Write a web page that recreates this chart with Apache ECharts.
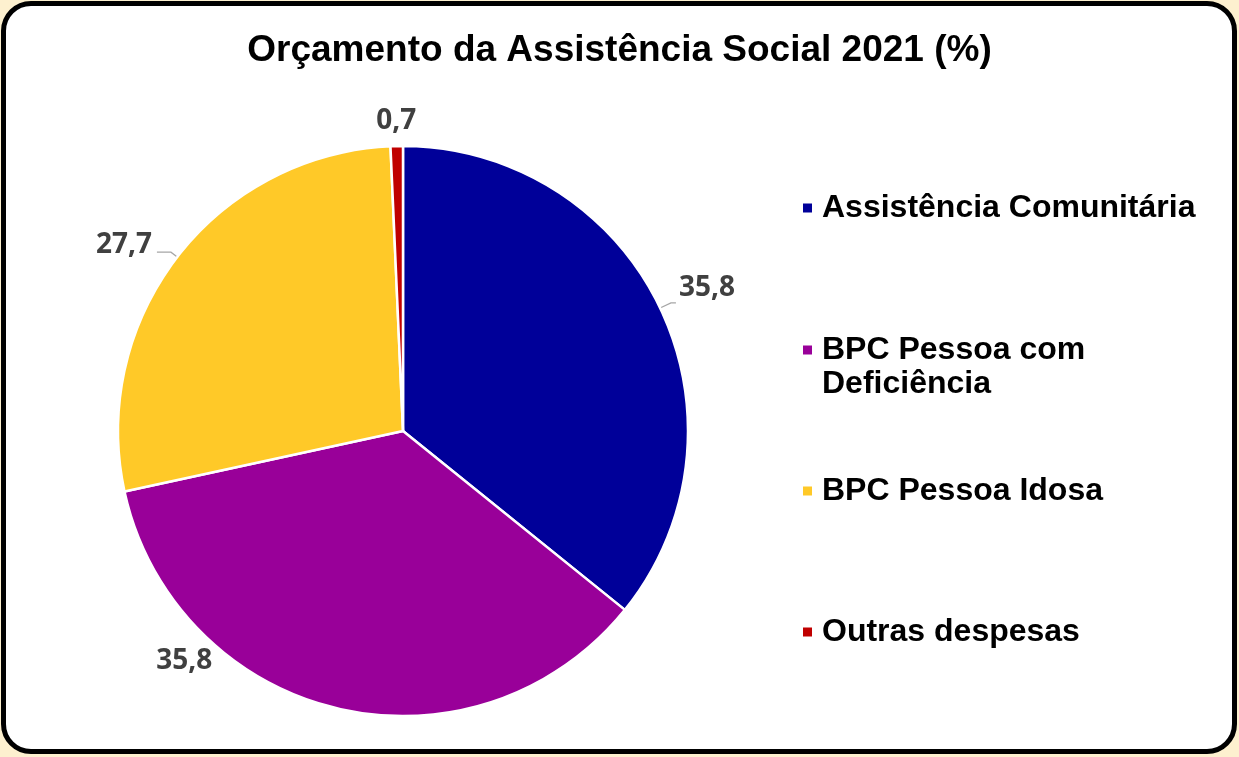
<!DOCTYPE html>
<html>
<head>
<meta charset="utf-8">
<script src="https://cdn.jsdelivr.net/npm/echarts@6/dist/echarts.min.js"></script>
<style>
  html, body { margin: 0; padding: 0; width: 1239px; height: 757px; background: #fdf0cf; overflow: hidden; }
  #frame { position: absolute; left: 1px; top: 1px; width: 1236px; height: 753px; box-sizing: border-box;
           border: 5px solid #000; border-radius: 30px; background: #fff; }
  #chart { position: absolute; left: 0; top: 0; width: 1239px; height: 757px; }
</style>
</head>
<body>
<div id="frame"></div>
<div id="chart"></div>
<script>
// Orçamento da Assistência Social 2021, participação de cada ação (%)
const categories = ['Assistência Comunitária', 'BPC Pessoa com Deficiência', 'BPC Pessoa Idosa', 'Outras despesas'];
const values = [35.8, 35.8, 27.7, 0.7];
const colors = ['#000099', '#990099', '#ffc928', '#c00000'];
const titleText = 'Orçamento da Assistência Social 2021 (%)';

// pie geometry
const CX = 403, CY = 431, R = 285;

// slices start at 12 o'clock and run clockwise; mid angle (degrees from top) of each slice
const total = values.reduce((a, b) => a + b, 0);
const midAngles = [];
values.reduce((acc, v) => { midAngles.push((acc + v / 2) / total * 360); return acc + v; }, 0);

// labels placed freely around the pie instead of at the end of a leader line
const freeLabels = {
  1: { angle: midAngles[1] + 30.2, dist: 1.115 },
  3: { angle: midAngles[3], dist: 1.088 }
};

const fmt = v => v.toFixed(1).replace('.', ',');

const labelBase = {
  show: true,
  position: 'outside',
  fontFamily: 'Open Sans',
  fontWeight: 'bold',
  fontSize: 28,
  color: '#404040',
  formatter: p => fmt(p.value)
};

// leader-line labels sit a little above the end of their line: an empty
// second text line lifts the value above the anchor point
const seriesData = categories.map((name, i) => {
  const item = { name: name, value: values[i], itemStyle: { color: colors[i] } };
  if (i === 0) {
    item.label = { formatter: p => fmt(p.value) + '\n', lineHeight: 29, distanceToLabelLine: 3 };
    item.labelLine = { length: 12, length2: 5 };
  } else if (i === 2) {
    item.label = { formatter: p => fmt(p.value) + '\n', lineHeight: 15, distanceToLabelLine: 5 };
    item.labelLine = { length: 8, length2: 14 };
  } else {
    item.labelLine = { show: false };
  }
  return item;
});

const legendTops = [186, 294, 469, 610];
const legends = categories.map((name, i) => ({
  data: [name],
  orient: 'vertical',
  left: 796,
  top: legendTops[i],
  icon: 'rect',
  itemWidth: 11,
  itemHeight: 11,
  selectedMode: false,
  formatter: n => n === 'BPC Pessoa com Deficiência' ? '\nBPC Pessoa com\nDeficiência' : n,
  textStyle: {
    fontFamily: 'Liberation Sans',
    fontWeight: 'bold',
    fontSize: 32,
    lineHeight: 34,
    color: '#000',
    padding: [0, 0, 0, 4]
  }
}));

const chart = echarts.init(document.getElementById('chart'), null, { renderer: 'canvas' });
chart.setOption({
  backgroundColor: 'transparent',
  animation: false,
  title: {
    text: titleText,
    left: 'center',
    top: 27,
    textStyle: { fontFamily: 'Liberation Sans', fontWeight: 'bold', fontSize: 37, color: '#000' }
  },
  legend: legends,
  series: [{
    type: 'pie',
    center: [CX, CY],
    radius: R,
    startAngle: 90,
    clockwise: true,
    avoidLabelOverlap: false,
    itemStyle: { borderColor: '#fff', borderWidth: 2.5 },
    label: labelBase,
    labelLine: { lineStyle: { color: '#a6a6a6', width: 1.3 } },
    emphasis: { disabled: true },
    labelLayout: function (params) {
      const f = freeLabels[params.dataIndex];
      if (!f) return {};
      const a = f.angle * Math.PI / 180;
      return {
        x: CX + R * f.dist * Math.sin(a),
        y: CY - R * f.dist * Math.cos(a),
        align: 'center',
        verticalAlign: 'middle'
      };
    },
    data: seriesData
  }]
});
</script>
</body>
</html>
